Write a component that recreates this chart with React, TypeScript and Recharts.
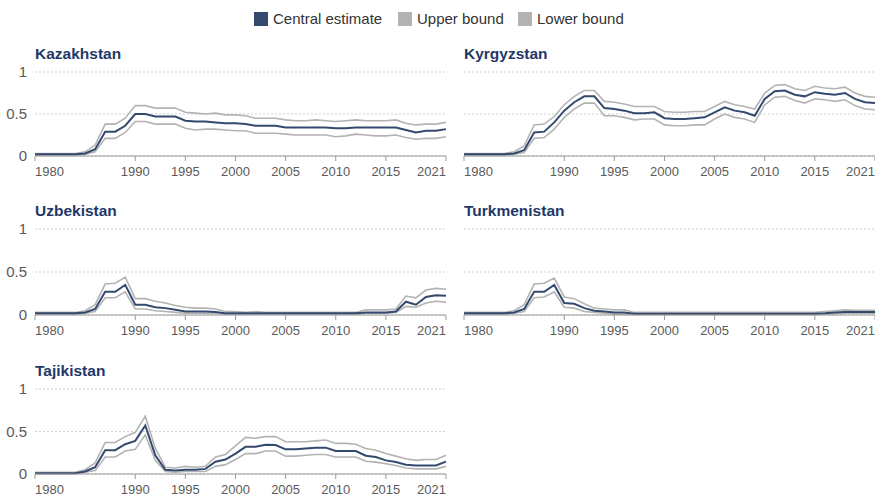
import { LineChart, Line, XAxis, YAxis, CartesianGrid } from "recharts";

const years = [
  1980, 1981, 1982, 1983, 1984, 1985, 1986, 1987, 1988, 1989,
  1990, 1991, 1992, 1993, 1994, 1995, 1996, 1997, 1998, 1999,
  2000, 2001, 2002, 2003, 2004, 2005, 2006, 2007, 2008, 2009,
  2010, 2011, 2012, 2013, 2014, 2015, 2016, 2017, 2018, 2019, 2020, 2021,
];
const xTicks = [1980, 1990, 1995, 2000, 2005, 2010, 2015, 2021];
const yTicks = [0, 0.5, 1];

const kazCentral = [
  0.02, 0.02, 0.02, 0.02, 0.02, 0.03, 0.08, 0.29, 0.29, 0.36,
  0.5, 0.5, 0.47, 0.47, 0.47, 0.42, 0.41, 0.41, 0.4, 0.39,
  0.39, 0.38, 0.36, 0.36, 0.36, 0.34, 0.34, 0.34, 0.34, 0.34,
  0.33, 0.33, 0.34, 0.34, 0.34, 0.34, 0.34, 0.31, 0.28, 0.3, 0.3, 0.32,
];
const kazUpper = [
  0.03, 0.03, 0.03, 0.03, 0.03, 0.05, 0.13, 0.38, 0.38, 0.45,
  0.6, 0.6, 0.57, 0.57, 0.57, 0.52, 0.51, 0.5, 0.51, 0.49,
  0.49, 0.48, 0.45, 0.45, 0.45, 0.43, 0.42, 0.42, 0.43, 0.42,
  0.41, 0.42, 0.43, 0.42, 0.42, 0.42, 0.43, 0.39, 0.37, 0.38, 0.38, 0.4,
];
const kazLower = [
  0.01, 0.01, 0.01, 0.01, 0.01, 0.02, 0.05, 0.21, 0.21, 0.28,
  0.41, 0.41, 0.38, 0.38, 0.38, 0.33, 0.31, 0.32, 0.32, 0.31,
  0.3, 0.3, 0.27, 0.27, 0.27, 0.26, 0.25, 0.25, 0.25, 0.25,
  0.23, 0.24, 0.26, 0.25, 0.24, 0.24, 0.25, 0.22, 0.2, 0.21, 0.21, 0.23,
];

const kgzCentral = [
  0.02, 0.02, 0.02, 0.02, 0.02, 0.03, 0.07, 0.28, 0.29, 0.4,
  0.54, 0.64, 0.71, 0.71, 0.57, 0.56, 0.54, 0.51, 0.51, 0.52,
  0.45, 0.44, 0.44, 0.45, 0.46, 0.52, 0.58, 0.54, 0.52, 0.48,
  0.68, 0.77, 0.78, 0.73, 0.71, 0.76, 0.74, 0.73, 0.75, 0.68, 0.64, 0.63,
];
const kgzUpper = [
  0.03, 0.03, 0.03, 0.03, 0.03, 0.05, 0.12, 0.37, 0.38, 0.47,
  0.61, 0.71, 0.78, 0.78, 0.65, 0.64, 0.62, 0.59, 0.59, 0.59,
  0.53, 0.52, 0.52, 0.53, 0.53, 0.59, 0.65, 0.61, 0.59, 0.56,
  0.75, 0.84, 0.85, 0.8, 0.78, 0.83, 0.81, 0.8, 0.82, 0.75, 0.71, 0.7,
];
const kgzLower = [
  0.01, 0.01, 0.01, 0.01, 0.01, 0.02, 0.04, 0.21, 0.22, 0.32,
  0.46, 0.56, 0.63, 0.63, 0.48, 0.48, 0.46, 0.43, 0.44, 0.44,
  0.37, 0.36, 0.36, 0.37, 0.37, 0.44, 0.5, 0.46, 0.44, 0.4,
  0.61, 0.7, 0.71, 0.66, 0.63, 0.68, 0.67, 0.65, 0.67, 0.6, 0.56, 0.55,
];

const uzbCentral = [
  0.02, 0.02, 0.02, 0.02, 0.02, 0.03, 0.07, 0.27, 0.27, 0.35,
  0.12, 0.12, 0.09, 0.08, 0.06, 0.04, 0.04, 0.04, 0.035, 0.02,
  0.02, 0.02, 0.02, 0.02, 0.02, 0.02, 0.02, 0.02, 0.02, 0.02,
  0.02, 0.02, 0.02, 0.03, 0.03, 0.03, 0.04, 0.155, 0.12, 0.21, 0.23, 0.225,
];
const uzbUpper = [
  0.03, 0.03, 0.03, 0.03, 0.03, 0.05, 0.12, 0.36, 0.37, 0.44,
  0.19, 0.19, 0.16, 0.14, 0.11, 0.09, 0.08, 0.08, 0.07, 0.04,
  0.04, 0.03, 0.04, 0.03, 0.03, 0.03, 0.03, 0.03, 0.03, 0.03,
  0.03, 0.03, 0.03, 0.06, 0.06, 0.06, 0.07, 0.22, 0.2, 0.29, 0.31, 0.3,
];
const uzbLower = [
  0.01, 0.01, 0.01, 0.01, 0.01, 0.02, 0.04, 0.2, 0.2, 0.27,
  0.07, 0.07, 0.05, 0.04, 0.03, 0.02, 0.02, 0.02, 0.02, 0.01,
  0.01, 0.01, 0.01, 0.01, 0.01, 0.01, 0.01, 0.01, 0.01, 0.01,
  0.01, 0.01, 0.01, 0.02, 0.02, 0.02, 0.03, 0.1, 0.09, 0.14, 0.16, 0.15,
];

const tkmCentral = [
  0.02, 0.02, 0.02, 0.02, 0.02, 0.03, 0.07, 0.27, 0.27, 0.35,
  0.14, 0.13, 0.08, 0.05, 0.04, 0.03, 0.03, 0.015, 0.015, 0.015,
  0.015, 0.015, 0.015, 0.015, 0.015, 0.015, 0.015, 0.015, 0.015, 0.015,
  0.015, 0.015, 0.015, 0.015, 0.015, 0.015, 0.02, 0.03, 0.035, 0.035, 0.035, 0.035,
];
const tkmUpper = [
  0.03, 0.03, 0.03, 0.03, 0.03, 0.05, 0.12, 0.36, 0.37, 0.43,
  0.21, 0.19, 0.13, 0.08, 0.07, 0.06, 0.06, 0.03, 0.03, 0.03,
  0.03, 0.03, 0.03, 0.03, 0.03, 0.03, 0.03, 0.03, 0.03, 0.03,
  0.03, 0.03, 0.03, 0.03, 0.03, 0.03, 0.04, 0.05, 0.06, 0.055, 0.055, 0.055,
];
const tkmLower = [
  0.01, 0.01, 0.01, 0.01, 0.01, 0.02, 0.04, 0.2, 0.21, 0.27,
  0.09, 0.08, 0.04, 0.03, 0.02, 0.01, 0.01, 0.005, 0.005, 0.005,
  0.005, 0.005, 0.005, 0.005, 0.005, 0.005, 0.005, 0.005, 0.005, 0.005,
  0.005, 0.005, 0.005, 0.005, 0.005, 0.005, 0.01, 0.015, 0.02, 0.02, 0.02, 0.02,
];

const tjkCentral = [
  0.01, 0.01, 0.01, 0.01, 0.01, 0.03, 0.08, 0.28, 0.28, 0.35,
  0.39, 0.57, 0.22, 0.05, 0.04, 0.05, 0.05, 0.06, 0.145, 0.17,
  0.24, 0.32, 0.32, 0.345, 0.34, 0.29, 0.29, 0.3, 0.31, 0.31,
  0.27, 0.27, 0.27, 0.215, 0.2, 0.16, 0.14, 0.11, 0.1, 0.1, 0.1, 0.145,
];
const tjkUpper = [
  0.02, 0.02, 0.02, 0.02, 0.02, 0.05, 0.13, 0.37, 0.37, 0.44,
  0.49, 0.68, 0.3, 0.08, 0.07, 0.09, 0.08, 0.09, 0.2, 0.23,
  0.33, 0.43, 0.42, 0.44, 0.44, 0.38, 0.38, 0.38, 0.39, 0.4,
  0.36, 0.36, 0.35, 0.3, 0.28, 0.24, 0.21, 0.18, 0.16, 0.17, 0.17, 0.22,
];
const tjkLower = [
  0.005, 0.005, 0.005, 0.005, 0.005, 0.02, 0.04, 0.2, 0.2, 0.27,
  0.29, 0.46, 0.16, 0.03, 0.02, 0.03, 0.03, 0.03, 0.09, 0.11,
  0.17, 0.24, 0.24, 0.27, 0.27, 0.21, 0.21, 0.22, 0.23, 0.23,
  0.2, 0.2, 0.2, 0.15, 0.14, 0.12, 0.1, 0.07, 0.06, 0.06, 0.06, 0.09,
];

const FONT = '"Liberation Sans", Arial, sans-serif';
const NAVY = "#34496e";
const GRAY = "#b3b3b3";
const TITLE = "#1f3868";

function XTick(props: any) {
  const { x, y, payload } = props;
  const v = payload.value;
  const anchor = v === 1980 ? "start" : v === 2021 ? "end" : "middle";
  return (
    <text x={x} y={y} dy="1em" textAnchor={anchor} fill="#5a5a5a" fontSize={13} fontFamily={FONT}>
      {v}
    </text>
  );
}

function Panel(props: {
  title: string;
  central: number[];
  upper: number[];
  lower: number[];
  left: number;
  plotTop: number;
  plotHeight: number;
  showY: boolean;
}) {
  const { title, central, upper, lower, left, plotTop, plotHeight, showY } = props;
  const data = years.map((yr, i) => ({ year: yr, central: central[i], upper: upper[i], lower: lower[i] }));
  const width = showY ? 450 : 435;
  const marginTop = 10;
  return (
    <div style={{ position: "absolute", left, top: plotTop - 26 }}>
      <div
        style={{
          position: "absolute",
          left: showY ? 35 : 24,
          top: 0,
          fontFamily: FONT,
          fontWeight: "bold",
          fontSize: 15.5,
          color: TITLE,
          lineHeight: "16px",
          whiteSpace: "nowrap",
        }}
      >
        {title}
      </div>
      <div style={{ position: "absolute", left: 0, top: 16 }}>
        <LineChart
          width={width}
          height={marginTop + plotHeight + 26}
          data={data}
          margin={{ top: marginTop, right: showY ? 4 : 0, left: showY ? 0 : 24, bottom: 0 }}
        >
          <CartesianGrid vertical={false} stroke="#cfcfcf" strokeDasharray="2 2" />
          <XAxis
            dataKey="year"
            type="number"
            domain={[1980, 2021]}
            ticks={xTicks}
            interval={0}
            stroke="#9a9a9a"
            tickSize={5}
            tick={<XTick />}
            height={26}
          />
          <YAxis
            domain={[0, 1]}
            ticks={yTicks}
            width={35}
            hide={!showY}
            axisLine={false}
            tickLine={false}
            tickSize={0}
            tickMargin={8}
            tick={{ fill: "#5a5a5a", fontSize: 15, fontFamily: FONT }}
          />
          <Line dataKey="upper" type="linear" stroke={GRAY} strokeWidth={1.6} dot={false} isAnimationActive={false} />
          <Line dataKey="lower" type="linear" stroke={GRAY} strokeWidth={1.6} dot={false} isAnimationActive={false} />
          <Line dataKey="central" type="linear" stroke={NAVY} strokeWidth={2} dot={false} isAnimationActive={false} />
        </LineChart>
      </div>
    </div>
  );
}

const legendItems = [
  { label: "Central estimate", color: NAVY, x: 254 },
  { label: "Upper bound", color: GRAY, x: 398 },
  { label: "Lower bound", color: GRAY, x: 518 },
];

export default function App() {
  return (
    <div
      style={{
        position: "absolute",
        left: 0,
        top: 0,
        width: 875,
        height: 497,
        background: "#fff",
        overflow: "hidden",
        fontFamily: FONT,
      }}
    >
      {legendItems.map((it) => (
        <div key={it.label} style={{ position: "absolute", left: it.x, top: 12, display: "flex", alignItems: "center" }}>
          <div style={{ width: 14, height: 14, background: it.color }} />
          <span style={{ marginLeft: 5, fontSize: 15, color: "#333", lineHeight: "14px" }}>{it.label}</span>
        </div>
      ))}
      <Panel title="Kazakhstan" central={kazCentral} upper={kazUpper} lower={kazLower} left={0} plotTop={72} plotHeight={84} showY />
      <Panel title="Kyrgyzstan" central={kgzCentral} upper={kgzUpper} lower={kgzLower} left={440} plotTop={72} plotHeight={84} showY={false} />
      <Panel title="Uzbekistan" central={uzbCentral} upper={uzbUpper} lower={uzbLower} left={0} plotTop={229} plotHeight={86} showY />
      <Panel title="Turkmenistan" central={tkmCentral} upper={tkmUpper} lower={tkmLower} left={440} plotTop={229} plotHeight={86} showY={false} />
      <Panel title="Tajikistan" central={tjkCentral} upper={tjkUpper} lower={tjkLower} left={0} plotTop={389} plotHeight={85} showY />
    </div>
  );
}
